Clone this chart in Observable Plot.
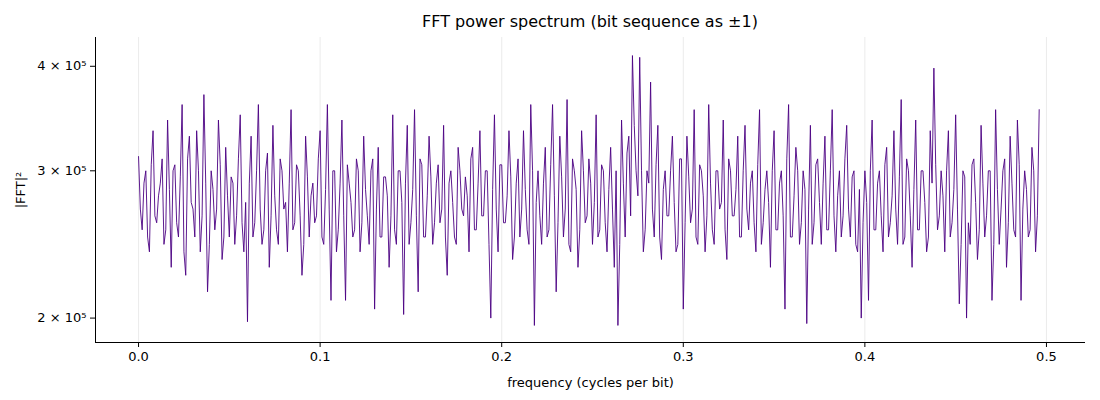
<!DOCTYPE html>
<html><head><meta charset="utf-8">
<script src="https://cdn.jsdelivr.net/npm/d3@7"></script>
<script src="https://cdn.jsdelivr.net/npm/@observablehq/plot@0.6"></script>
<style>body{margin:0;background:#fff;font-family:"DejaVu Sans",sans-serif}
#t{position:absolute;left:0;width:1180px;top:12px;text-align:center;font-size:16px;color:#000}
svg text{font-size:13px;fill:#000}
</style></head><body>
<div id="t">FFT power spectrum (bit sequence as ±1)</div>
<div id="c" style="position:absolute;top:0;left:0"></div>
<script>
const step = 0.002;
// values at even multiples of 0.001 (×1000)
const powerEvenK = [
312,255,300,240,335,260,290,245,345,230,
305,250,360,225,330,270,335,240,370,215,
300,255,345,235,320,250,290,265,350,240,
198,330,260,360,245,300,230,340,255,310,
270,240,355,260,300,225,330,250,290,265,
335,245,360,210,300,255,345,210,290,250,
310,240,330,265,300,205,320,250,295,230,
350,245,300,202,340,260,355,215,305,250,
330,245,290,260,340,225,300,250,320,270,
295,240,320,255,335,265,300,200,350,240,
305,260,335,235,290,250,335,255,360,196,
300,245,320,255,360,215,330,250,365,240,
300,230,335,260,310,245,350,255,300,240,
320,230,196,345,250,330,412,300,410,240,
300,383,250,340,235,300,265,330,240,310,
205,330,260,355,245,300,240,360,255,300,
270,345,235,300,265,330,250,340,255,300,
240,355,260,300,230,335,255,300,205,360,
250,320,245,300,197,340,260,310,245,330,
255,355,240,300,265,340,250,300,240,200,
300,210,345,255,300,240,320,260,335,245,
365,250,300,230,345,255,300,240,335,398,
255,300,240,335,260,350,208,300,200,245,
310,235,340,250,300,210,355,245,300,230,
330,255,345,210,300,250,320,240,355];
// values at odd multiples of 0.001 (×1000)
const powerOddK = [
270,290,250,305,265,280,310,255,285,300,
260,295,240,310,275,250,300,265,290,245,
285,270,305,250,280,295,245,310,260,275,
290,250,300,270,255,315,265,280,245,300,
275,290,255,305,265,245,295,280,260,310,
250,285,270,300,240,290,265,305,275,255,
300,260,285,245,310,270,250,295,280,265,
255,300,275,290,245,285,265,310,250,280,
295,260,305,270,250,290,275,245,300,265,
280,310,255,290,265,300,245,285,270,305,
260,280,295,250,310,270,285,245,300,275,
265,290,250,305,280,260,295,270,245,310,
285,255,300,265,290,275,250,305,260,285,
270,300,245,290,315,265,340,280,300,255,
290,270,305,250,285,265,300,275,245,310,
260,295,270,250,305,280,265,290,245,300,
275,255,310,265,285,250,300,270,290,260,
305,245,285,275,300,255,290,265,310,250,
280,300,260,285,270,245,305,275,290,255,
300,265,280,250,310,270,295,245,285,260,
275,300,255,290,265,305,250,280,270,295,
245,310,265,285,255,300,275,250,290,305,
265,280,300,250,285,270,245,295,260,305,
275,255,290,265,300,245,285,270,310,260,
290,250,305,270,285,255,300,265];
const xTicks = [0,0.1,0.2,0.3,0.4,0.5];
const yTicks = [2e5,3e5,4e5];
const data = [
  ...powerEvenK.map((v,i)=>({f:i*step, p:v*1000})),
  ...powerOddK.map((v,i)=>({f:i*step+step/2, p:v*1000}))
].sort((a,b)=>a.f-b.f);
const fmtY = d=>`${d/1e5} × 10⁵`;
const chart = Plot.plot({
  width:1100, height:400,
  marginLeft:95, marginRight:15, marginTop:37, marginBottom:58,
  style:{fontSize:"13px", fontFamily:"DejaVu Sans, sans-serif", color:"#000"},
  x:{domain:[-0.0237,0.5215]},
  y:{type:"log", domain:[1.87e5,4.33e5]},
  marks:[
    Plot.ruleX(xTicks,{stroke:"#e6e6e6", strokeWidth:0.8}),
    Plot.lineY(data,{x:"f", y:"p", stroke:"#4b0082", strokeWidth:0.9}),
    Plot.axisX({ticks:xTicks, tickFormat:d=>d.toFixed(1), tickSize:5, tickPadding:4, label:"frequency (cycles per bit)", labelAnchor:"center", labelArrow:"none", labelOffset:44}),
    Plot.axisY({ticks:yTicks, tickFormat:fmtY, tickSize:5, label:"|FFT|²", labelAnchor:"center", labelArrow:"none", labelOffset:80}),
    Plot.ruleX([-0.0237],{stroke:"#000", strokeWidth:1}),
    Plot.ruleY([1.87e5],{stroke:"#000", strokeWidth:1})
  ]
});
document.getElementById("c").appendChild(chart);
</script></body></html>
